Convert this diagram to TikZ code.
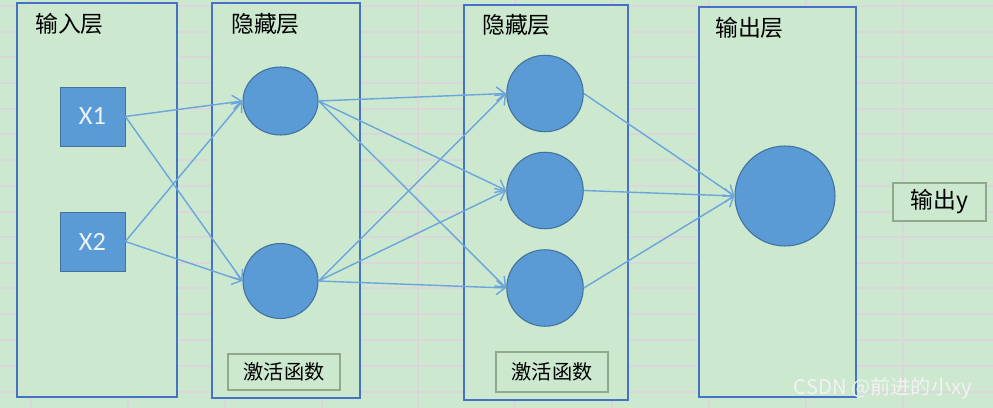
\documentclass[tikz,border=0pt]{standalone}
\usepackage{fontspec}
\newfontfamily\cjk{Noto Sans CJK SC}
\newfontfamily\calibri{Carlito}
\usetikzlibrary{arrows.meta,shapes.geometric}

\definecolor{fondo}{HTML}{CCE8CF}
\definecolor{rejilla}{HTML}{DDD5DC}
\definecolor{marco}{HTML}{4472C4}
\definecolor{relleno}{HTML}{5B9BD5}
\definecolor{borde}{HTML}{41719C}
\definecolor{flecha}{HTML}{6AA5DC}
\definecolor{cajagris}{HTML}{8EA98E}

\begin{document}
\begin{tikzpicture}[x=0.02cm, y=-0.02cm,
    >={Straight Barb[length=5pt,width=8pt]},
    capa/.style={draw=marco, fill=fondo, line width=0.8pt},
    titulo/.style={anchor=west, font=\cjk\fontsize{13}{15}\selectfont},
    entrada/.style={draw=borde, fill=relleno, minimum width=1.3cm, minimum height=1.18cm,
        inner sep=0pt, text=white!88!relleno, font=\calibri\fontsize{15}{17}\selectfont},
    neurona/.style={circle, draw=borde, fill=relleno, line width=0.6pt, inner sep=0pt, minimum size=1.53cm},
    caja/.style={draw=cajagris, fill=fondo, line width=0.7pt, inner sep=0pt, font=\cjk\fontsize{11.5}{13}\selectfont},
    conexion/.style={->, flecha, line width=0.8pt}]

    % Fondo y rejilla de la hoja
    \fill[fondo] (0,0) rectangle (993,408);
    \useasboundingbox (0,0) rectangle (993,408);
    \foreach \gy in {6,32,57,83,109,134,160,186,212,237,263,288,314,340,366,392}
        \draw[rejilla, line width=0.6pt] (0,\gy) -- (993,\gy);
    \foreach \gx in {31,128,225,322,418,515,612,709,806,903}
        \draw[rejilla, line width=0.6pt] (\gx,0) -- (\gx,408);

    % Marcos de las capas
    \draw[capa] (17,3) rectangle (177,397);
    \draw[capa] (212,3) rectangle (360,398);
    \draw[capa] (464,5) rectangle (628,400);
    \draw[capa] (699,7) rectangle (856,397);

    \node[titulo] (t1) at (29,24) {输入层};
    \node[titulo] (t2) at (225,24) {隐藏层};
    \node[titulo] (t3) at (476,25) {隐藏层};
    \node[titulo] (t4) at (709,28) {输出层};

    % Entradas
    \node[entrada] (x1) at (92.5,116.5) {X1};
    \node[entrada] (x2) at (92.5,241.5) {X2};

    % Primera capa oculta
    \node[neurona, ellipse, minimum width=1.5cm, minimum height=1.36cm] (h1) at (280.5,101) {};
    \node[neurona, minimum size=1.5cm] (h2) at (280.5,281) {};

    % Segunda capa oculta
    \node[neurona] (c1) at (545,93.5) {};
    \node[neurona] (c2) at (545,190.5) {};
    \node[neurona] (c3) at (545,288) {};

    % Salida
    \node[neurona, minimum size=2cm] (sal) at (785,196) {};
    \node[caja, minimum width=1.86cm, minimum height=0.76cm, font=\cjk\fontsize{13}{15}\selectfont] (y) at (939.5,202) {输出y};

    \node[caja, minimum width=2.24cm, minimum height=0.72cm] (act1) at (284,372) {激活函数};
    \node[caja, minimum width=2.24cm, minimum height=0.8cm] (act2) at (552,372) {激活函数};

    % Conexiones
    \foreach \a in {x1,x2}
        \foreach \b in {h1,h2}
            \draw[conexion] (\a.east) -- (\b.west);
    \foreach \a in {h1,h2}
        \foreach \b in {c1,c2,c3}
            \draw[conexion] (\a.east) -- (\b.west);
    \foreach \a in {c1,c2,c3}
        \draw[conexion] (\a.east) -- (sal.west);

    \node[anchor=east, text=white!90!gray, font=\cjk\fontsize{11.5}{13}\selectfont] (marca) at (978,388) {CSDN @前进的小xy};
\end{tikzpicture}
\end{document}
